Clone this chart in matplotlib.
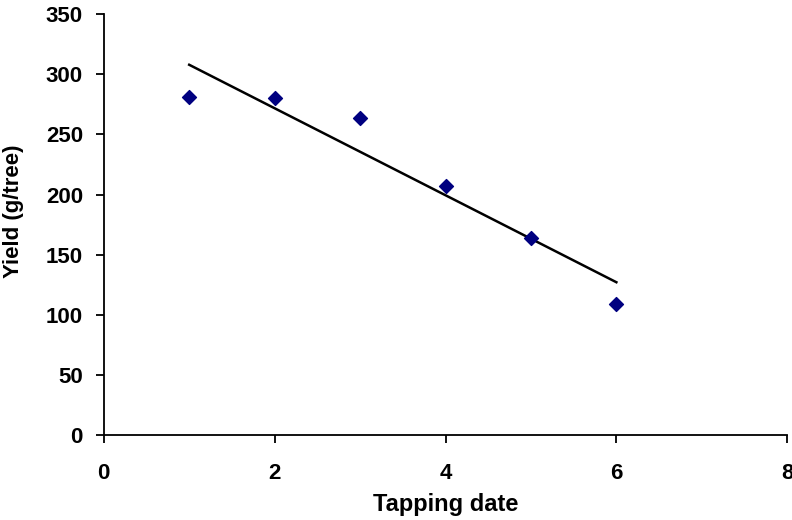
import matplotlib
matplotlib.use("Agg")
import matplotlib.pyplot as plt
import numpy as np

plt.rcParams['font.family'] = ['Liberation Sans', 'DejaVu Sans']
plt.rcParams['font.weight'] = 'bold'

# Tapping date vs yield
tapping_date = [1, 2, 3, 4, 5, 6]
yield_g = [281, 280, 264, 207, 164, 109]

x_ticks = [0, 2, 4, 6, 8]
y_ticks = list(range(0, 351, 50))

fig = plt.figure(figsize=(7.92, 5.2), dpi=100)
ax = fig.add_axes([0.131, 0.163, 0.863, 0.81])

ax.scatter(tapping_date, yield_g, marker='D', s=50, color='#000080', zorder=3)

# linear trend line, like excel
slope, icpt = np.polyfit(tapping_date, yield_g, 1)
xs = np.array([tapping_date[0], tapping_date[-1]])
ax.plot(xs, slope * xs + icpt, color='black', lw=1.8)

ax.set_xlim(0, 8)
ax.set_ylim(0, 350)
ax.set_xticks(x_ticks)
ax.set_yticks(y_ticks)
ax.spines['top'].set_visible(False)
ax.spines['right'].set_visible(False)
ax.spines['left'].set_linewidth(1.3)
ax.spines['bottom'].set_linewidth(1.3)
ax.tick_params(direction='out', length=6, width=1.3, labelsize=16)
ax.tick_params(axis='x', pad=14)
ax.tick_params(axis='y', pad=9)
for lab in ax.get_xticklabels() + ax.get_yticklabels():
    lab.set_fontweight('bold')

ax.set_xlabel("Tapping date", fontsize=17, fontweight='bold')
ax.set_ylabel("Yield (g/tree)", fontsize=16, fontweight='bold')
ax.xaxis.set_label_coords(0.5, -0.137)
ax.yaxis.set_label_coords(-0.116, 0.532)

fig.savefig("out.png", dpi=100)
